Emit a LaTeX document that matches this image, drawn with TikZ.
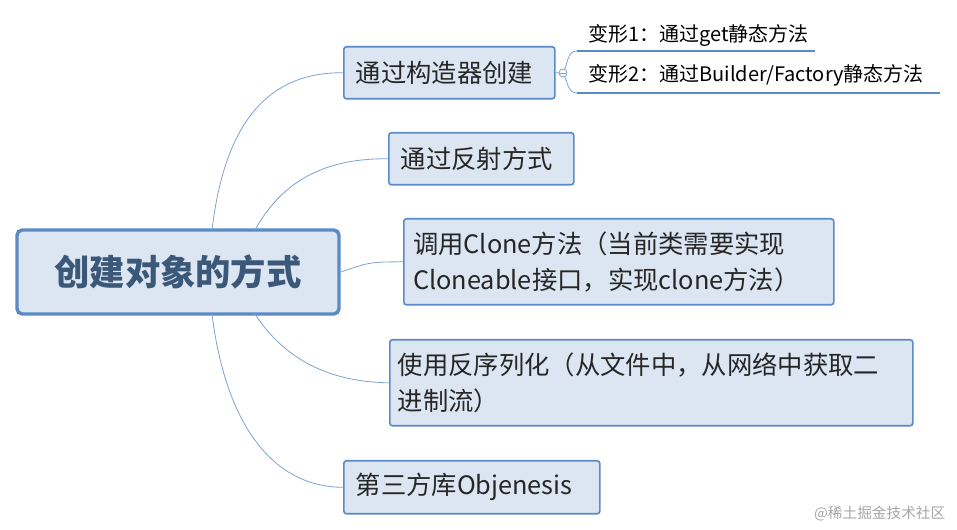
\documentclass[tikz,border=0pt]{standalone}
\usepackage{fontspec}
\setmainfont{Noto Sans CJK SC}
\usetikzlibrary{positioning}
\definecolor{boxfill}{HTML}{DCE6F2}
\definecolor{boxline}{HTML}{5B8BC6}
\definecolor{linkline}{HTML}{7EA2D0}
\definecolor{roottext}{HTML}{3B5878}
\begin{document}
\begin{tikzpicture}[x=0.75pt,y=-0.75pt]
        \tikzset{topic/.style={draw=boxline,fill=boxfill,line width=1.2pt,rounded corners=2pt,
                anchor=north west,inner sep=0pt},
                label/.style={anchor=west,align=left,font=\fontsize{19}{27}\selectfont,text=black!85},
                root/.style={draw=boxline,fill=boxfill,line width=2.6pt,rounded corners=4pt,
                inner sep=0pt,font=\fontsize{26.5}{30}\selectfont\bfseries,text=roottext},
                sub/.style={anchor=west,inner sep=0pt,font=\fontsize{15}{17}\selectfont},
                link/.style={draw=linkline,line width=0.6pt}}
        \useasboundingbox (0,0) rectangle (957,530);
        % root
        \node [root,minimum width=322*0.75pt,minimum height=84*0.75pt] (root) at (178,272) {创建对象的方式};
        % topics
        \node [topic,minimum width=211*0.75pt,minimum height=52*0.75pt] (ctor) at (343,46) {};
        \node [label] at ([xshift=6pt]ctor.west) {通过构造器创建};
        \node [topic,minimum width=185*0.75pt,minimum height=52*0.75pt] (refl) at (388,132) {};
        \node [label] at ([xshift=6pt]refl.west) {通过反射方式};
        \node [topic,minimum width=430*0.75pt,minimum height=86*0.75pt] (clone) at (403,218) {};
        \node [label] at ([xshift=4pt]clone.west) {调用Clone方法（当前类需要实现\\Cloneable接口，实现clone方法）};
        \node [topic,minimum width=523*0.75pt,minimum height=86*0.75pt] (deser) at (389,339) {};
        \node [label] at ([xshift=3pt]deser.west) {使用反序列化（从文件中，从网络中获取二\\进制流）};
        \node [topic,minimum width=256*0.75pt,minimum height=53*0.75pt] (objn) at (343,460) {};
        \node [label] at ([xshift=6pt]objn.west) {第三方库Objenesis};
        % sub items
        \coordinate (fold) at (563,73);
        \node [sub] (v1) at (588,36) {变形1：通过get静态方法};
        \node [sub] (v2) at (588,75) {变形2：通过Builder/Factory静态方法};
        \coordinate (u1a) at (577,51); \coordinate (u1b) at (815,51);
        \coordinate (u2a) at (577,93); \coordinate (u2b) at (940,93);
        \draw [link,line width=1.2pt,draw=boxline] (u1a) -- (u1b);
        \draw [link,line width=1.2pt,draw=boxline] (u2a) -- (u2b);
        \draw [link] (ctor.east) -- (fold);
        \draw [link] (fold) to[out=60,in=180] (u1a);
        \draw [link] (fold) to[out=-60,in=180] (u2a);
        \draw [link,fill=white] (fold) circle (4);
        \draw [link] ([xshift=-2.5]fold) -- ([xshift=2.5]fold);
        % links
        \draw [link] (212,230) .. controls (225,120) and (270,72) .. (ctor.west);
        \draw [link] (255,230) .. controls (280,185) and (320,158) .. (refl.west);
        \draw [link] (root.east) .. controls (370,262) .. (clone.west);
        \draw [link] (255,314) .. controls (285,360) and (330,382) .. (deser.west);
        \draw [link] (212,314) .. controls (225,420) and (270,487) .. (objn.west);
        \node [anchor=east,font=\fontsize{11}{13}\selectfont,text=black!35] (mark) at (950,514) {@稀土掘金技术社区};
\end{tikzpicture}
\end{document}
